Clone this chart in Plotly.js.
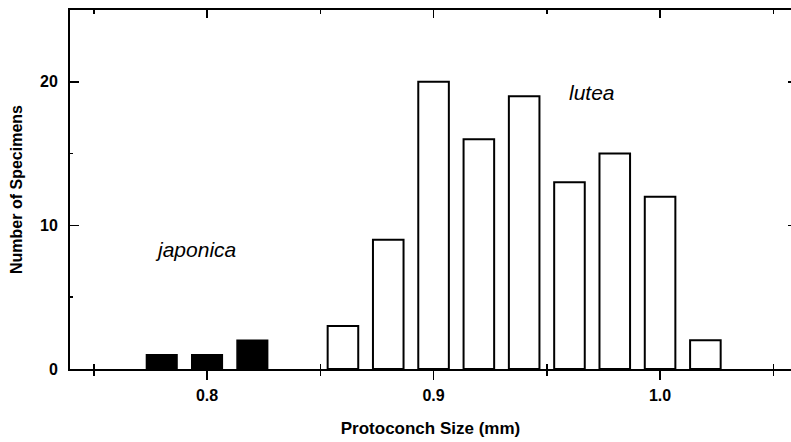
<!DOCTYPE html>
<html>
<head>
<meta charset="utf-8">
<script src="https://cdn.plot.ly/plotly-3.0.1.min.js"></script>
<style>html,body{margin:0;padding:0;background:#fff;}#chart{width:791px;height:442px;}</style>
</head>
<body>
<div id="chart"></div>
<script>
// Data
var japonicaSize = [0.78, 0.80, 0.82];
var japonicaCount = [1, 1, 2];
var luteaSize = [0.86, 0.88, 0.90, 0.92, 0.94, 0.96, 0.98, 1.00, 1.02];
var luteaCount = [3, 9, 20, 16, 19, 13, 15, 12, 2];
var majorX = [0.8, 0.9, 1.0];
var majorXLabels = ['0.8', '0.9', '1.0'];
var minorX = [0.75, 0.85, 0.95, 1.05];
var majorY = [0, 10, 20];
var minorY = [5, 15];
var xTitle = 'Protoconch Size (mm)';
var yTitle = 'Number of Specimens';
var labelJaponica = 'japonica';
var labelLutea = 'lutea';

var XR = [0.7395, 1.0578];
var YR = [0, 25];
var FONT = 'Liberation Sans, Arial, Helvetica, sans-serif';
var barW = 0.0135;

var traces = [
  {type: 'bar', x: japonicaSize, y: japonicaCount, width: barW,
   marker: {color: '#000', line: {color: '#000', width: 1.5}}, name: 'japonica',
   hoverinfo: 'x+y'},
  {type: 'bar', x: luteaSize, y: luteaCount, width: barW,
   marker: {color: '#fff', line: {color: '#000', width: 2}}, name: 'lutea',
   hoverinfo: 'x+y'},
  // invisible helpers to activate overlay axes
  {type: 'scatter', x: [XR[0]], y: [0], xaxis: 'x2', yaxis: 'y', mode: 'markers',
   marker: {opacity: 0}, hoverinfo: 'skip', showlegend: false},
  {type: 'scatter', x: [XR[0]], y: [0], xaxis: 'x3', yaxis: 'y', mode: 'markers',
   marker: {opacity: 0}, hoverinfo: 'skip', showlegend: false},
  {type: 'scatter', x: [XR[0]], y: [0], xaxis: 'x', yaxis: 'y2', mode: 'markers',
   marker: {opacity: 0}, hoverinfo: 'skip', showlegend: false}
];

var layout = {
  width: 791, height: 442,
  margin: {l: 70, r: 0, t: 10, b: 73, pad: 0},
  paper_bgcolor: '#fff', plot_bgcolor: '#fff',
  showlegend: false,
  barmode: 'overlay',
  font: {family: FONT, color: '#000', size: 16, weight: 'bold'},
  xaxis: {
    range: XR, showgrid: false, zeroline: false,
    showline: true, linecolor: '#000', linewidth: 2,
    tickmode: 'array', tickvals: majorX, ticktext: majorXLabels,
    ticks: 'outside', ticklen: 9, tickwidth: 1.5, tickcolor: '#000',
    tickfont: {family: FONT, size: 16, weight: 'bold', color: '#000'},
    ticklabelstandoff: 2,
    minor: {tickvals: minorX, ticks: 'outside', ticklen: 5, tickwidth: 1.5, tickcolor: '#000', showgrid: false},
    title: {text: xTitle, font: {family: FONT, size: 17, weight: 'bold', color: '#000'}, standoff: 19}
  },
  xaxis2: {
    overlaying: 'x', side: 'top', range: XR, showgrid: false, zeroline: false,
    showline: true, linecolor: '#000', linewidth: 2,
    tickmode: 'array', tickvals: majorX, showticklabels: false,
    ticks: 'inside', ticklen: 8, tickwidth: 1.5, tickcolor: '#000',
    minor: {tickvals: minorX, ticks: 'inside', ticklen: 4, tickwidth: 1.5, tickcolor: '#000', showgrid: false}
  },
  xaxis3: {
    overlaying: 'x', side: 'bottom', range: XR, showgrid: false, zeroline: false,
    showline: false, tickmode: 'array', tickvals: minorX, showticklabels: false,
    ticks: 'inside', ticklen: 5, tickwidth: 1.5, tickcolor: '#000'
  },
  yaxis: {
    range: YR, showgrid: false, zeroline: false,
    showline: true, linecolor: '#000', linewidth: 2,
    tickmode: 'array', tickvals: majorY,
    ticks: 'inside', ticklen: 9, tickwidth: 1.5, tickcolor: '#000',
    tickfont: {family: FONT, size: 16, weight: 'bold', color: '#000'},
    ticklabelstandoff: 7,
    minor: {tickvals: minorY, ticks: 'inside', ticklen: 3, tickwidth: 1.5, tickcolor: '#000', showgrid: false},
    title: {text: yTitle, font: {family: FONT, size: 16, weight: 'bold', color: '#000'}, standoff: 13}
  },
  yaxis2: {
    overlaying: 'y', side: 'right', range: YR, showgrid: false, zeroline: false,
    showline: false, tickmode: 'array', tickvals: [10, 20], showticklabels: false,
    ticks: 'inside', ticklen: 3, tickwidth: 1.5, tickcolor: '#000'
  },
  annotations: [
    {x: 0.7949, y: 8.32, xref: 'x', yref: 'y', text: labelJaponica, showarrow: false,
     xanchor: 'center', yanchor: 'middle',
     font: {family: FONT, size: 21, style: 'italic', weight: 'normal', color: '#000'}},
    {x: 0.970, y: 19.25, xref: 'x', yref: 'y', text: labelLutea, showarrow: false,
     xanchor: 'center', yanchor: 'middle',
     font: {family: FONT, size: 21, style: 'italic', weight: 'normal', color: '#000'}}
  ]
};

Plotly.newPlot('chart', traces, layout, {staticPlot: true, displayModeBar: false});
</script>
</body>
</html>
